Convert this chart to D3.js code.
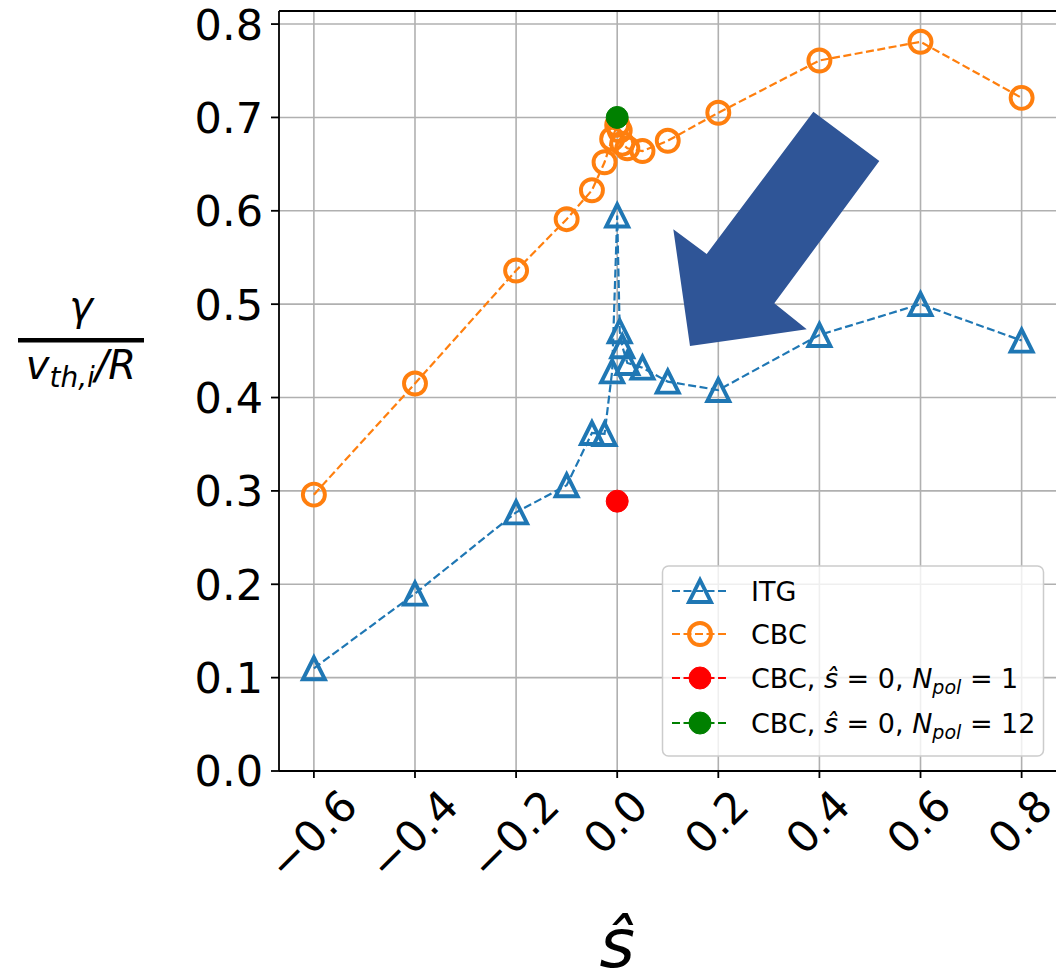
<!DOCTYPE html>
<html lang="en">
<head>
<meta charset="UTF-8">
<title>Growth rate vs shear</title>
<script src="https://cdn.jsdelivr.net/npm/d3@7"></script>
<style>
  body { margin: 0; background: #fff; }
  svg { display: block; font-family: "DejaVu Sans", sans-serif; }
</style>
</head>
<body>
<div id="chart"></div>
<script>
	const W = 1056, H = 973;
	const plot = {left: 279, top: 11, right: 1056, bottom: 771};

	// magnetic shear values (shared by both scans)
	const shear = [-0.6, -0.4, -0.2, -0.1, -0.05, -0.025, -0.01, 0, 0.005, 0.01, 0.02, 0.05, 0.1, 0.2, 0.4, 0.6, 0.8];
	const itgGamma = [0.110, 0.190, 0.277, 0.306, 0.362, 0.361, 0.428, 0.595, 0.471, 0.455, 0.437, 0.432, 0.417, 0.408, 0.467, 0.500, 0.461];
	const cbcGamma = [0.296, 0.415, 0.536, 0.591, 0.622, 0.652, 0.677, 0.692, 0.686, 0.672, 0.667, 0.664, 0.675, 0.705, 0.761, 0.781, 0.721];
	const cbcNpol1 = [[0, 0.289]];
	const cbcNpol12 = [[0, 0.700]];

	const xTicks = [-0.6, -0.4, -0.2, 0.0, 0.2, 0.4, 0.6, 0.8];
	const yTicks = [0.0, 0.1, 0.2, 0.3, 0.4, 0.5, 0.6, 0.7, 0.8];

	// block arrow annotation, in data coordinates
	const arrowPts = [[0.388, 0.706], [0.5185, 0.6533], [0.3108, 0.5009], [0.3749, 0.4731],
		[0.144, 0.4552], [0.111, 0.5802], [0.177, 0.5537]];

	const blue = "#1f77b4", orange = "#ff7f0e";
	const ms = 22, mew = 3.9;

	const svg = d3.select("#chart").append("svg")
		.attr("width", W).attr("height", H);

	const x = d3.scaleLinear().domain([-0.669, 0.868]).range([plot.left, plot.right]);
	const y = d3.scaleLinear().domain([0, 0.814]).range([plot.bottom, plot.top]);

	svg.append("clipPath").attr("id", "clip")
		.append("rect")
			.attr("x", plot.left).attr("y", plot.top)
			.attr("width", plot.right - plot.left).attr("height", plot.bottom - plot.top);

	// grid
	const grid = svg.append("g").attr("stroke", "#b0b0b0").attr("stroke-width", 1.6);
	grid.selectAll("line.gx").data(xTicks).join("line")
		.attr("x1", d => x(d)).attr("x2", d => x(d))
		.attr("y1", plot.top).attr("y2", plot.bottom);
	grid.selectAll("line.gy").data(yTicks).join("line")
		.attr("y1", d => y(d)).attr("y2", d => y(d))
		.attr("x1", plot.left).attr("x2", plot.right);

	const tri = d3.symbol().type({draw(ctx, size) {
		const h = Math.sqrt(size) / 2;
		ctx.moveTo(0, -h); ctx.lineTo(-h, h); ctx.lineTo(h, h); ctx.closePath();
	}}).size(ms * ms);

	const line = d3.line().x(d => x(d[0])).y(d => y(d[1]));
	const area = svg.append("g").attr("clip-path", "url(#clip)");

	function series(pts, color, marker) {
		area.append("path")
			.datum(pts)
			.attr("d", line)
			.attr("fill", "none")
			.attr("stroke", color)
			.attr("stroke-width", 2.2)
			.attr("stroke-dasharray", "8,3.5");
		if (marker === "tri") {
			area.selectAll(null).data(pts).join("path")
				.attr("d", tri)
				.attr("transform", d => `translate(${x(d[0])},${y(d[1])})`)
				.attr("fill", "none").attr("stroke", color)
				.attr("stroke-width", mew).attr("stroke-linejoin", "miter");
		} else {
			area.selectAll(null).data(pts).join("circle")
				.attr("cx", d => x(d[0])).attr("cy", d => y(d[1]))
				.attr("r", ms / 2)
				.attr("fill", marker === "open" ? "none" : color)
				.attr("stroke", color).attr("stroke-width", marker === "open" ? mew : 1);
		}
	}

	series(shear.map((s, i) => [s, itgGamma[i]]), blue, "tri");
	series(shear.map((s, i) => [s, cbcGamma[i]]), orange, "open");
	series(cbcNpol1, "red", "dot");
	series(cbcNpol12, "green", "dot");

	// spines and ticks
	const ax = svg.append("g").attr("stroke", "#000").attr("stroke-width", 1.8);
	ax.append("line").attr("x1", plot.left).attr("x2", plot.left).attr("y1", plot.top).attr("y2", plot.bottom);
	ax.append("line").attr("x1", plot.left).attr("x2", plot.right).attr("y1", plot.bottom).attr("y2", plot.bottom);
	ax.append("line").attr("x1", plot.left).attr("x2", plot.right).attr("y1", plot.top).attr("y2", plot.top);
	ax.selectAll("line.ty").data(yTicks).join("line")
		.attr("x1", plot.left - 8).attr("x2", plot.left)
		.attr("y1", d => y(d)).attr("y2", d => y(d));
	ax.selectAll("line.tx").data(xTicks).join("line")
		.attr("x1", d => x(d)).attr("x2", d => x(d))
		.attr("y1", plot.bottom).attr("y2", plot.bottom + 7);

	const fmt = d3.format(".1f");
	const tickFont = 43;

	svg.append("g").selectAll("text").data(yTicks).join("text")
		.attr("x", plot.left - 16)
		.attr("y", d => y(d) + tickFont * 0.36)
		.attr("text-anchor", "end")
		.style("font-size", tickFont + "px")
		.text(d => fmt(d));

	// rotated x tick labels, bbox centred under the tick
	svg.append("g").selectAll("text").data(xTicks).join("text")
		.style("font-size", tickFont + "px")
		.attr("text-anchor", "middle")
		.attr("dy", "0.36em")
		.text(d => fmt(d))
		.each(function(d) {
			const w = this.getComputedTextLength();
			const half = (w + tickFont * 0.76) / (2 * Math.SQRT2);
			const cx = x(d) - 2, cy = plot.bottom + 15 + half;
			d3.select(this).attr("transform", `translate(${cx},${cy}) rotate(-45)`);
		});

	// x label
	svg.append("text")
		.attr("x", x(0)).attr("y", 967)
		.attr("text-anchor", "middle")
		.style("font-size", "68px").style("font-style", "italic")
		.text("ŝ");

	// y label: gamma / (v_th,i / R)
	const yl = svg.append("g");
	yl.append("text")
		.attr("x", 81).attr("y", 320)
		.attr("text-anchor", "middle")
		.style("font-size", "40px").style("font-style", "italic")
		.text("γ");
	yl.append("rect")
		.attr("x", 18).attr("y", 338).attr("width", 126).attr("height", 4.5)
		.attr("fill", "#000");
	const den = yl.append("text")
		.attr("x", 81).attr("y", 379)
		.attr("text-anchor", "middle")
		.style("font-size", "40px").style("font-style", "italic");
	den.append("tspan").text("v");
	den.append("tspan").attr("dy", 8).style("font-size", "28px").text("th,i");
	den.append("tspan").attr("dy", -8).text("/R");

	// legend
	const lg = svg.append("g");
	lg.append("rect")
		.attr("x", 662.5).attr("y", 566).attr("width", 381).attr("height", 190).attr("rx", 6)
		.attr("fill", "#fff").attr("fill-opacity", 0.8)
		.attr("stroke", "#cccccc").attr("stroke-width", 1.5);

	const legendItems = [
		{color: blue, marker: "tri", label: [["ITG", ""]]},
		{color: orange, marker: "open", label: [["CBC", ""]]},
		{color: "red", marker: "dot", label: [["CBC, ", ""], ["ŝ", "i"], [" = 0, ", ""], ["N", "i"], ["pol", "sub"], [" = 1", ""]]},
		{color: "green", marker: "dot", label: [["CBC, ", ""], ["ŝ", "i"], [" = 0, ", ""], ["N", "i"], ["pol", "sub"], [" = 12", ""]]}
	];
	const rowY = [591, 634, 678, 723];

	legendItems.forEach((it, k) => {
		const cy = rowY[k];
		const g = lg.append("g");
		g.append("line")
			.attr("x1", 672).attr("x2", 728).attr("y1", cy).attr("y2", cy)
			.attr("stroke", it.color).attr("stroke-width", 2.2)
			.attr("stroke-dasharray", "8,3.5");
		if (it.marker === "tri") {
			g.append("path").attr("d", tri).attr("transform", `translate(700,${cy})`)
				.attr("fill", "none").attr("stroke", it.color).attr("stroke-width", mew);
		} else {
			g.append("circle").attr("cx", 700).attr("cy", cy).attr("r", ms / 2)
				.attr("fill", it.marker === "open" ? "none" : it.color)
				.attr("stroke", it.color).attr("stroke-width", it.marker === "open" ? mew : 1);
		}
		const t = g.append("text")
			.attr("x", 751).attr("y", cy + 10)
			.style("font-size", "27px");
		let shifted = false;
		it.label.forEach(([s, st]) => {
			const sp = t.append("tspan").text(s);
			if (st === "i") sp.style("font-style", "italic");
			if (st === "sub") { sp.style("font-style", "italic").style("font-size", "19px").attr("dy", 6); shifted = true; }
			else if (shifted) { sp.attr("dy", -6); shifted = false; }
		});
	});

	// block arrow annotation
	svg.append("polygon")
		.attr("points", arrowPts.map(p => [x(p[0]), y(p[1])].join(",")).join(" "))
		.attr("fill", "#2f5597");
</script>
</body>
</html>
